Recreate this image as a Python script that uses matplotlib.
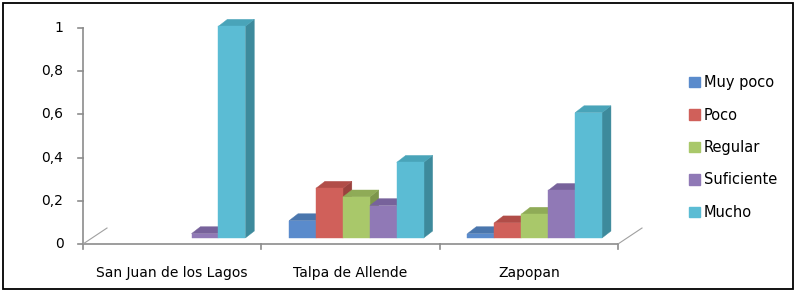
"""Grouped 3D-style bar chart: valoración por municipio."""

import matplotlib.pyplot as plt
from matplotlib.patches import Patch, Polygon, Rectangle

categories = ["San Juan de los Lagos", "Talpa de Allende", "Zapopan"]
series_names = ["Muy poco", "Poco", "Regular", "Suficiente", "Mucho"]

muy_poco = [0.0, 0.08, 0.02]
poco = [0.0, 0.23, 0.07]
regular = [0.0, 0.19, 0.11]
suficiente = [0.02, 0.15, 0.22]
mucho = [0.98, 0.35, 0.58]

y_ticks = [0, 0.2, 0.4, 0.6, 0.8, 1.0]
y_tick_labels = ["0", "0,2", "0,4", "0,6", "0,8", "1"]

# front, top, side shades per series
palette = [
    ("#5a8bcc", "#4a76ad", "#3f6698"),
    ("#d0605a", "#b14d48", "#9a423e"),
    ("#a9c86a", "#8fab57", "#7d964b"),
    ("#9079b6", "#77629b", "#665486"),
    ("#5bbcd4", "#49a4b9", "#3d8a9c"),
]

W, H = 797, 292
fig = plt.figure(figsize=(W / 100, H / 100), dpi=100)
ax = fig.add_axes([83 / W, 48 / H, 535 / W, 216 / H])
ax.set_xlim(0, 3)
ax.set_ylim(0, 1)
ax.axis("off")

bar_w = 0.151
x_shift = 0.033
base = 0.028
dx, dy = 0.05, 0.032  # bar depth
fdx, fdy = 0.1346, 0.074  # floor depth
axis_col = "#8c8c8c"

all_values = [muy_poco, poco, regular, suficiente, mucho]
for i in range(len(categories)):
    for j, vals in enumerate(all_values):
        v = vals[i]
        if v <= 0:
            continue
        front, top, side = palette[j]
        x0 = i + 0.5 + x_shift + (j - 2) * bar_w - bar_w / 2
        x1 = x0 + bar_w
        y1 = base + v
        kw = dict(clip_on=False, linewidth=0.3)
        ax.add_patch(Polygon([(x1, base), (x1 + dx, base + dy), (x1 + dx, y1 + dy), (x1, y1)],
                             facecolor=side, edgecolor=side, **kw))
        ax.add_patch(Polygon([(x0, y1), (x1, y1), (x1 + dx, y1 + dy), (x0 + dx, y1 + dy)],
                             facecolor=top, edgecolor=top, **kw))
        ax.add_patch(Rectangle((x0, base), bar_w, v, facecolor=front, edgecolor=front, **kw))

# axes lines drawn by hand
tick_x = 5 / 178.3
tick_y = 5 / 216
ax.plot([0, 0], [0, 1], color=axis_col, lw=1.2, clip_on=False)
ax.plot([0, 3], [0, 0], color=axis_col, lw=1.2, clip_on=False)
for t, lab in zip(y_ticks, y_tick_labels):
    ax.plot([-tick_x, 0], [t, t], color=axis_col, lw=1.2, clip_on=False)
    ax.text(-0.11, t, lab, ha="right", va="center", fontsize=10, color="black")
for k in range(4):
    ax.plot([k, k], [0, -tick_y], color=axis_col, lw=1.2, clip_on=False)
ax.plot([0, fdx], [0, fdy], color="#a0a0a0", lw=0.8, clip_on=False)
ax.plot([3, 3 + fdx], [0, fdy], color="#a0a0a0", lw=0.8, clip_on=False)
for i, name in enumerate(categories):
    ax.text(i + 0.5, -0.135, name, ha="center", va="center", fontsize=10, color="black")

handles = [Patch(facecolor=palette[j][0], edgecolor=palette[j][0]) for j in range(5)]
fig.legend(handles, series_names, loc="upper left", bbox_to_anchor=(689 / W, 1 - 75 / H),
           frameon=False, fontsize=10.5, handlelength=0.75, handleheight=0.75,
           handletextpad=0.25, labelspacing=1.2, borderpad=0, borderaxespad=0)

fig.patches.append(Rectangle((3 / W, 3 / H), 790 / W, 286 / H, transform=fig.transFigure,
                             fill=False, edgecolor="black", linewidth=1.3))

fig.savefig("out.png", dpi=100)
plt.close(fig)
